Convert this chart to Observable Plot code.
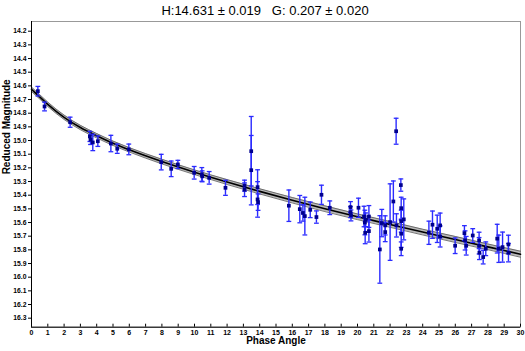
<!DOCTYPE html>
<html><head><meta charset="utf-8">
<script src="https://cdn.jsdelivr.net/npm/d3@7"></script>
<script src="https://cdn.jsdelivr.net/npm/@observablehq/plot@0.6"></script>
<style>
body{margin:0;background:#fff;font-family:Arial,"Liberation Sans",sans-serif;}
#title{height:20px;line-height:21px;font-size:13px;text-align:center;width:525px;padding-left:5px;box-sizing:border-box;color:#000;white-space:pre;}
</style></head><body>
<div id="title">H:14.631 ± 0.019   G: 0.207 ± 0.020</div>
<div id="chart"></div>
<script>
const phaseAngles = [0.39,0.80,2.37,3.58,3.62,3.76,4.07,4.87,5.26,5.97,7.96,8.57,8.98,9.98,10.45,10.47,10.9,11.9,13.07,13.07,13.48,13.48,13.87,13.87,13.9,15.79,16.46,16.65,16.77,17.1,17.48,17.79,18.3,19.57,19.57,19.6,20.06,20.4,20.5,20.45,20.47,20.7,20.7,21.37,21.49,21.7,21.7,22.0,22.2,22.37,22.39,22.66,22.68,22.68,22.68,22.68,22.84,24.38,24.6,24.89,25.07,25.07,25.99,26.56,26.6,26.67,27.07,27.46,27.46,27.48,27.71,27.87,28.57,28.67,28.9,29.26,29.26];
const magnitudes = [14.639,14.751,14.866,14.970,14.994,15.014,15.005,15.022,15.060,15.065,15.158,15.207,15.175,15.236,15.248,15.262,15.273,15.346,15.33,15.36,15.078,15.217,15.341,15.431,15.451,15.477,15.502,15.53,15.553,15.507,15.56,15.397,15.492,15.487,15.524,15.548,15.492,15.556,15.58,15.60,15.675,15.556,15.663,15.797,15.604,15.670,15.621,15.597,15.446,14.932,15.621,15.326,15.495,15.59,15.682,15.792,15.577,15.675,15.616,15.646,15.621,15.702,15.770,15.678,15.731,15.770,15.695,15.731,15.770,15.821,15.853,15.792,15.718,15.792,15.78,15.760,15.821];
const errors = [0.035,0.032,0.037,0.037,0.035,0.06,0.038,0.06,0.034,0.039,0.057,0.057,0.03,0.046,0.05,0.04,0.046,0.055,0.04,0.05,0.254,0.254,0.127,0.13,0.06,0.115,0.1,0.06,0.138,0.057,0.045,0.07,0.05,0.04,0.04,0.04,0.07,0.075,0.05,0.09,0.08,0.08,0.08,0.247,0.1,0.07,0.07,0.28,0.15,0.095,0.085,0.045,0.08,0.08,0.1,0.05,0.15,0.085,0.1,0.1,0.09,0.077,0.057,0.055,0.07,0.068,0.05,0.06,0.06,0.05,0.05,0.05,0.105,0.1,0.11,0.067,0.067];

const curveAngles = [0,0.5,1,2,3,4,5,6,8,10,12,14,16,18,20,22,24,26,28,30];
const curveFit = [14.625,14.68,14.735,14.83,14.905,14.965,15.02,15.068,15.154,15.232,15.304,15.372,15.437,15.499,15.558,15.614,15.670,15.724,15.778,15.832];
const curveBright = [14.609,14.664,14.719,14.814,14.889,14.949,15.004,15.052,15.137,15.215,15.286,15.353,15.417,15.478,15.537,15.593,15.649,15.702,15.757,15.810];
const curveFaint = [14.641,14.696,14.751,14.846,14.921,14.981,15.036,15.084,15.171,15.249,15.322,15.391,15.457,15.520,15.579,15.635,15.691,15.746,15.799,15.854];

const xTicks = d3.range(0, 31, 1);
const yTicks = [14.2,14.3,14.4,14.5,14.6,14.7,14.8,14.9,15.0,15.1,15.2,15.3,15.4,15.5,15.6,15.7,15.8,15.9,16.0,16.1,16.2,16.3];
const yDomain = [14.129, 16.366];

const points = phaseAngles.map((a, i) => ({a, m: magnitudes[i], e: errors[i]}));
const curve = curveAngles.map((a, i) => ({a, fit: curveFit[i], hi: curveBright[i], lo: curveFaint[i]}));

const capSymbol = {draw(ctx, size){const w = Math.sqrt(size); ctx.moveTo(-w/2, 0); ctx.lineTo(w/2, 0);}};
const barColor = "#2b2bff";
const font = "Arial, 'Liberation Sans', sans-serif";

const chart = Plot.plot({
  width: 525, height: 331,
  marginLeft: 31, marginRight: 5, marginTop: 1, marginBottom: 24.3,
  style: {fontFamily: font, background: "#fff", color: "#000"},
  x: {domain: [0, 30]},
  y: {domain: yDomain, reverse: true},
  marks: [
    Plot.frame({stroke: "#999"}),
    Plot.areaY(curve, {x: "a", y1: "lo", y2: "hi", fill: "#b8b8b8", curve: "monotone-x"}),
    Plot.line(curve, {x: "a", y: "lo", stroke: "#555", strokeWidth: 0.8, curve: "monotone-x"}),
    Plot.line(curve, {x: "a", y: "hi", stroke: "#555", strokeWidth: 0.8, curve: "monotone-x"}),
    Plot.line(curve, {x: "a", y: "fit", stroke: "#000", strokeWidth: 1.6, curve: "monotone-x"}),
    Plot.ruleX(points, {x: "a", y1: d => d.m - d.e, y2: d => d.m + d.e, stroke: barColor, strokeWidth: 1.4}),
    Plot.dot(points, {x: "a", y: d => d.m - d.e, symbol: capSymbol, r: 2.7, stroke: barColor, strokeWidth: 1.3}),
    Plot.dot(points, {x: "a", y: d => d.m + d.e, symbol: capSymbol, r: 2.7, stroke: barColor, strokeWidth: 1.3}),
    Plot.dot(points, {x: "a", y: "m", symbol: "square", r: 2.1, fill: "#00008f", stroke: null}),
    Plot.ruleX([0], {stroke: "#000", strokeWidth: 1}),
    Plot.ruleY([yDomain[1]], {stroke: "#000", strokeWidth: 1}),
    Plot.axisY(yTicks, {anchor: "left", tickSize: 3, tickPadding: 2, fontSize: 6.8, fontWeight: "bold", tickFormat: d => d.toFixed(1), label: null}),
    Plot.axisX(xTicks, {anchor: "bottom", tickSize: 0, tickPadding: 3, fontSize: 7, fontWeight: "bold", tickFormat: d => String(d), label: null}),
    Plot.tickX(xTicks, {x: d => d, insetTop: 302.7, stroke: "#000"}),
    Plot.text(["Reduced Magnitude"], {frameAnchor: "left", dx: -25, rotate: -90, fontWeight: "bold", fontSize: 10}),
    Plot.text(["Phase Angle"], {frameAnchor: "bottom", dy: 17, fontWeight: "bold", fontSize: 10})
  ]
});
document.getElementById("chart").appendChild(chart);
</script>
</body></html>
